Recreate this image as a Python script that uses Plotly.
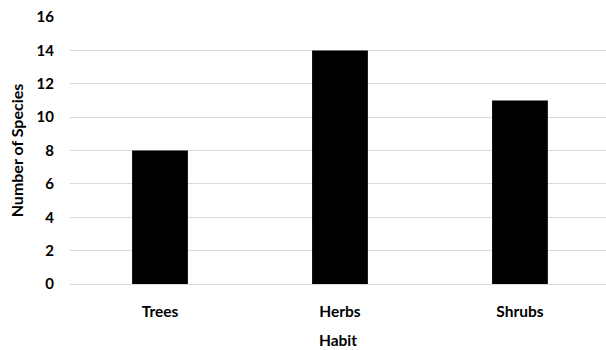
import plotly.graph_objects as go

habits = ["Trees", "Herbs", "Shrubs"]
species_counts = [8, 14, 11]
y_ticks = [0, 2, 4, 6, 8, 10, 12, 14, 16]

font_family = "Lato, 'Open Sans', sans-serif"

fig = go.Figure(
    go.Bar(
        x=habits,
        y=species_counts,
        marker=dict(color="black", line=dict(width=0)),
        width=0.31,
    )
)

fig.update_layout(
    width=606,
    height=350,
    margin=dict(l=70, r=0, t=17, b=66),
    paper_bgcolor="white",
    plot_bgcolor="white",
    showlegend=False,
    font=dict(family=font_family, size=15, color="black"),
)

fig.update_xaxes(
    range=[-0.5, 2.478],
    showgrid=False,
    showline=False,
    zeroline=False,
    ticks="outside",
    ticklen=13,
    tickcolor="white",
    tickfont=dict(family=font_family, size=15.5, color="black", weight="bold"),
    title=dict(text="<b>Habit</b>", font=dict(size=15.5), standoff=16),
)

fig.update_yaxes(
    range=[0, 16],
    tickvals=y_ticks,
    showgrid=True,
    gridcolor="#d9d9d9",
    gridwidth=1,
    zeroline=True,
    zerolinecolor="#d9d9d9",
    zerolinewidth=1,
    showline=False,
    ticks="outside",
    ticklen=12,
    tickcolor="white",
    tickfont=dict(family=font_family, size=15, color="black", weight="bold"),
    title=dict(text="<b>Number of Species</b>", font=dict(size=16), standoff=8),
)

fig.write_html("out.html")
